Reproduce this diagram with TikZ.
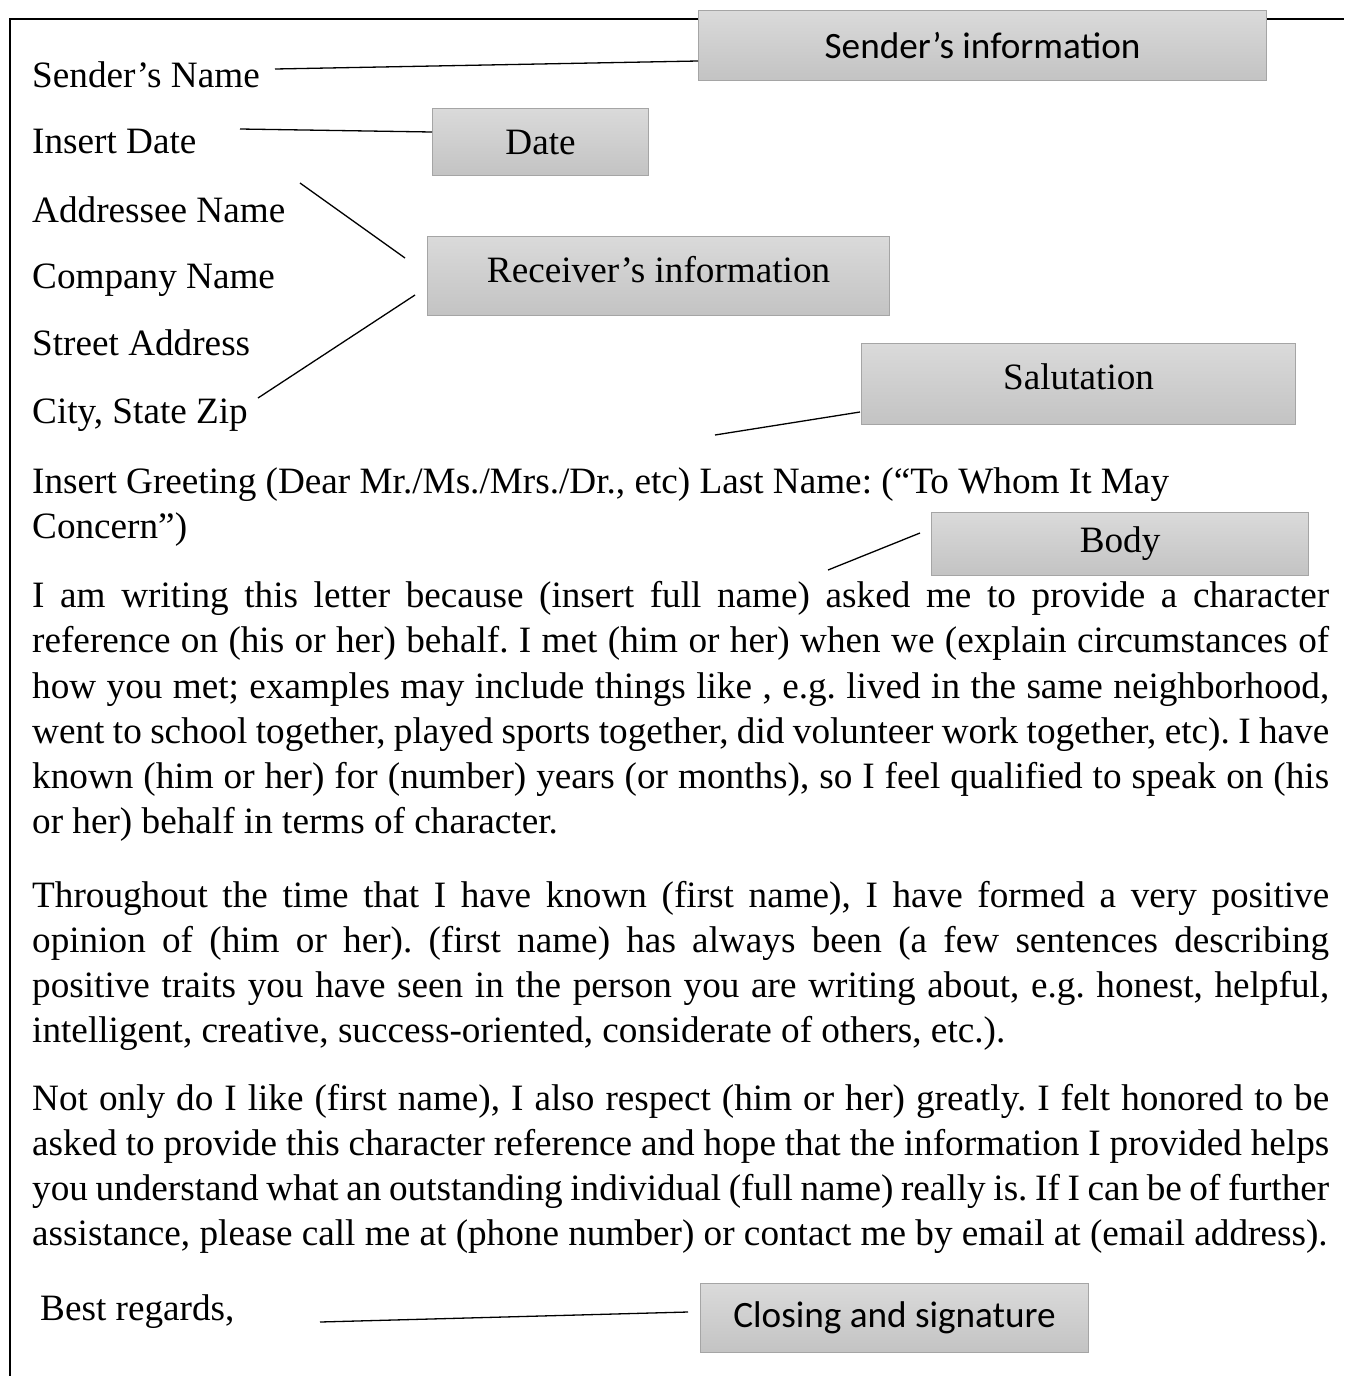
\documentclass[tikz,border=0pt]{standalone}
\usepackage{fontspec}
\setmainfont{Liberation Serif}
\newfontfamily\calfont{Carlito}
\definecolor{boxtop}{RGB}{218,218,218}
\definecolor{boxbot}{RGB}{195,195,195}
\definecolor{boxline}{RGB}{165,165,165}
\newcommand{\jline}[1]{\hbox to 1297pt{#1}}
\frenchspacing
\begin{document}
\begin{tikzpicture}[x=1pt,y=-1pt,
  txt/.style={anchor=base west, inner sep=0pt, font=\fontsize{37.2}{45}\selectfont\frenchspacing},
  lbl/.style={draw=boxline, line width=1.2pt, top color=boxtop, bottom color=boxbot,
              inner sep=0pt, anchor=north west, font=\fontsize{37.2}{45}\selectfont},
  callbl/.style={lbl, font=\calfont\fontsize{37.2}{45}\selectfont},
  conn/.style={line width=1.3pt, black}
]
\useasboundingbox (0,0) rectangle (1344,1376);
% frame
\draw[line width=2.2pt] (10,1376) -- (10,19) -- (1344,19);

% header lines
\node[txt] (sname) at (32,87) {Sender’s Name};
\node[txt] (idate) at (32,153) {Insert Date};
\node[txt] (aname) at (32,222) {Addressee Name};
\node[txt] (cname) at (32,288) {Company Name};
\node[txt] (saddr) at (32,355) {Street Address};
\node[txt] (city)  at (32,423) {City, State Zip};
\node[txt] (greet1) at (32,493) {Insert Greeting (Dear Mr./Ms./Mrs./Dr., etc) Last Name: (“To Whom It May};
\node[txt] (greet2) at (32,538) {Concern”)};

% paragraph 1
\node[txt] (p1a) at (32,607) {\jline{I am writing this letter because (insert full name) asked me to provide a character}};
\node[txt] (p1b) at (32,652) {\jline{reference on (his or her) behalf. I met (him or her) when we (explain circumstances of}};
\node[txt] (p1c) at (32,698) {\jline{how you met; examples may include things like , e.g. lived in the same neighborhood,}};
\node[txt] (p1d) at (32,743) {\jline{went to school together, played sports together, did volunteer work together, etc). I have}};
\node[txt] (p1e) at (32,788) {\jline{known (him or her) for (number) years (or months), so I feel qualified to speak on (his}};
\node[txt] (p1f) at (32,833) {or her) behalf in terms of character.};

% paragraph 2
\node[txt] (p2a) at (32,907) {\jline{Throughout the time that I have known (first name), I have formed a very positive}};
\node[txt] (p2b) at (32,952) {\jline{opinion of (him or her). (first name) has always been (a few sentences describing}};
\node[txt] (p2c) at (32,997) {\jline{positive traits you have seen in the person you are writing about, e.g. honest, helpful,}};
\node[txt] (p2d) at (32,1042) {intelligent, creative, success-oriented, considerate of others, etc.).};

% paragraph 3
\node[txt] (p3a) at (32,1110) {\jline{Not only do I like (first name), I also respect (him or her) greatly. I felt honored to be}};
\node[txt] (p3b) at (32,1155) {\jline{asked to provide this character reference and hope that the information I provided helps}};
\node[txt] (p3c) at (32,1200) {\jline{you understand what an outstanding individual (full name) really is. If I can be of further}};
\node[txt] (p3d) at (32,1245) {assistance, please call me at (phone number) or contact me by email at (email address).};

\node[txt] (best) at (40,1320) {Best regards,};

% label boxes
\node[callbl, minimum width=568pt, minimum height=70pt] (sinfo) at (698,10) {Sender’s information};
\node[lbl, minimum width=216pt, minimum height=67pt] (date) at (432,108) {Date};
\node[lbl, minimum width=462pt, minimum height=79pt, text depth=14pt] (rinfo) at (427,236) {Receiver’s information};
\node[lbl, minimum width=434pt, minimum height=81pt, text depth=16pt] (salut) at (861,343) {Salutation};
\node[lbl, minimum width=377pt, minimum height=63pt] (body) at (931,512) {Body};
\node[callbl, minimum width=388pt, minimum height=69pt] (close) at (700,1283) {Closing and signature};

% connectors
\coordinate (c1a) at (275,69);  \coordinate (c1b) at (698,61);
\coordinate (c2a) at (240,129); \coordinate (c2b) at (432,132);
\coordinate (c3a) at (300,183); \coordinate (c3b) at (405,258);
\coordinate (c4a) at (258,398); \coordinate (c4b) at (415,295);
\coordinate (c5a) at (715,435); \coordinate (c5b) at (860,412);
\coordinate (c6a) at (828,570); \coordinate (c6b) at (920,533);
\coordinate (c7a) at (320,1322); \coordinate (c7b) at (688,1312);
\draw[conn] (c1a) -- (c1b);
\draw[conn] (c2a) -- (c2b);
\draw[conn] (c3a) -- (c3b);
\draw[conn] (c4a) -- (c4b);
\draw[conn] (c5a) -- (c5b);
\draw[conn] (c6a) -- (c6b);
\draw[conn] (c7a) -- (c7b);
\end{tikzpicture}
\end{document}
